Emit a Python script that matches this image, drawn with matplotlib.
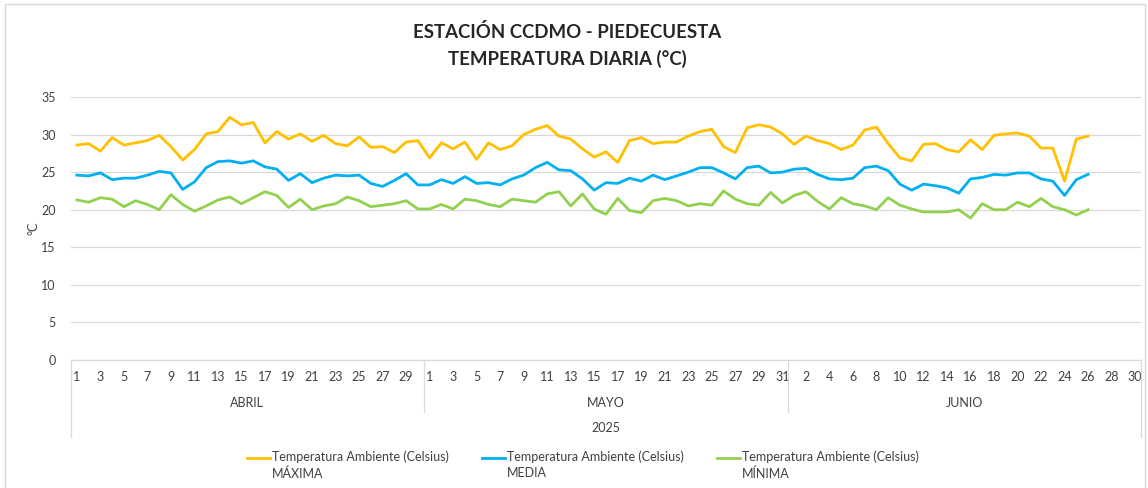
import numpy as np
import matplotlib
matplotlib.use("Agg")
import matplotlib.pyplot as plt
from matplotlib.lines import Line2D
from matplotlib.patches import Rectangle

plt.rcParams['font.family'] = ['Lato', 'DejaVu Sans']

# daily values read per month (June incomplete)
months = ['ABRIL', 'MAYO', 'JUNIO']
month_days = [30, 31, 30]
year = '2025'

april_max = [28.6, 28.8, 27.8, 29.6, 28.6, 28.9, 29.2, 29.9, 28.4, 26.6,
             28.0, 30.1, 30.4, 32.3, 31.3, 31.6, 28.9, 30.4, 29.4, 30.1,
             29.1, 29.9, 28.8, 28.5, 29.7, 28.3, 28.4, 27.6, 29.0, 29.2]
april_mean = [24.6, 24.5, 24.9, 24.0, 24.2, 24.2, 24.6, 25.1, 24.9, 22.7,
              23.7, 25.6, 26.4, 26.5, 26.2, 26.5, 25.7, 25.4, 23.9, 24.8,
              23.6, 24.2, 24.6, 24.5, 24.6, 23.5, 23.1, 23.9, 24.8, 23.3]
april_min = [21.3, 21.0, 21.6, 21.4, 20.4, 21.2, 20.7, 20.0, 22.0, 20.7,
             19.8, 20.5, 21.3, 21.7, 20.8, 21.6, 22.4, 21.9, 20.3, 21.4,
             20.0, 20.5, 20.8, 21.7, 21.2, 20.4, 20.6, 20.8, 21.2, 20.1]

may_max = [26.9, 28.9, 28.1, 29.0, 26.7, 28.9, 28.0, 28.5, 30.0, 30.7,
           31.2, 29.8, 29.4, 28.1, 27.0, 27.7, 26.3, 29.2, 29.6, 28.8,
           29.0, 29.0, 29.8, 30.4, 30.7, 28.4, 27.6, 30.9, 31.3, 31.0, 30.1]
may_mean = [23.3, 24.0, 23.5, 24.4, 23.5, 23.6, 23.3, 24.1, 24.6, 25.6,
            26.3, 25.3, 25.2, 24.1, 22.6, 23.6, 23.5, 24.2, 23.8, 24.6,
            24.0, 24.5, 25.0, 25.6, 25.6, 24.9, 24.1, 25.6, 25.8, 24.9, 25.0]
may_min = [20.1, 20.7, 20.1, 21.4, 21.2, 20.7, 20.4, 21.4, 21.2, 21.0,
           22.1, 22.4, 20.5, 22.1, 20.1, 19.4, 21.5, 19.9, 19.6, 21.2,
           21.5, 21.2, 20.5, 20.8, 20.6, 22.5, 21.4, 20.8, 20.6, 22.3, 20.9]

june_max = [28.7, 29.8, 29.2, 28.8, 28.0, 28.6, 30.6, 31.0, 28.8, 26.9,
            26.5, 28.7, 28.8, 28.0, 27.7, 29.3, 28.0, 29.9, 30.1, 30.2,
            29.8, 28.2, 28.2, 23.8, 29.4, 29.8]
june_mean = [25.4, 25.5, 24.7, 24.1, 24.0, 24.2, 25.6, 25.8, 25.2, 23.4,
             22.6, 23.4, 23.2, 22.9, 22.2, 24.1, 24.3, 24.7, 24.6, 24.9,
             24.9, 24.1, 23.8, 21.9, 24.0, 24.7]
june_min = [21.9, 22.4, 21.1, 20.1, 21.6, 20.8, 20.5, 20.0, 21.6, 20.6,
            20.1, 19.7, 19.7, 19.7, 20.0, 18.9, 20.8, 20.0, 20.0, 21.0,
            20.4, 21.5, 20.4, 20.0, 19.3, 20.0]

series_labels = ['Temperatura Ambiente (Celsius)\nMÁXIMA',
                 'Temperatura Ambiente (Celsius)\nMEDIA',
                 'Temperatura Ambiente (Celsius)\nMÍNIMA']
colors = ['#FFC000', '#00B0F0', '#92D050']


def join(apr, may, jun):
    pad = [np.nan] * (month_days[2] - len(jun))
    return np.array(apr + may + jun + pad, dtype=float)


series = [join(april_max, may_max, june_max),
          join(april_mean, may_mean, june_mean),
          join(april_min, may_min, june_min)]

n = sum(month_days)
x = np.arange(n)
day_labels = [str(d) for m in month_days for d in range(1, m + 1)]

W, H = 1148, 488
fig = plt.figure(figsize=(W / 100, H / 100), dpi=100)
fig.patch.set_facecolor('white')

# plot area in pixels
left, right, top, bottom = 71, 1141, 97, 360
ax = fig.add_axes([left / W, 1 - bottom / H, (right - left) / W, (bottom - top) / H])
ph = bottom - top

for y, c in zip(series, colors):
    ax.plot(x, y, color=c, lw=2.0, solid_joinstyle='round', clip_on=False, zorder=3)

ax.set_xlim(-0.5, n - 0.5)
ax.set_ylim(0, 35)
ax.set_yticks(range(0, 36, 5))
ax.yaxis.grid(True, color='#D9D9D9', lw=0.9)
ax.set_axisbelow(True)
for s in ax.spines.values():
    s.set_visible(False)
ax.tick_params(axis='y', length=0, pad=11, labelsize=9, labelcolor='#404040')
ax.set_ylabel('°C', fontsize=9, color='#404040', labelpad=1)

# day labels every second category
ax.set_xticks(x[::2])
ax.set_xticklabels(day_labels[::2])
ax.tick_params(axis='x', length=0, pad=8, labelsize=9, labelcolor='#404040')

# multi-level category axis
tr = ax.get_xaxis_transform()
line_kw = dict(color='#D9D9D9', lw=0.9, transform=tr, clip_on=False)
ax.plot([-0.5, n - 0.5], [0, 0], **line_kw)
edges = np.concatenate([[0], np.cumsum(month_days)]) - 0.5
for i, e in enumerate(edges):
    depth = 77 if i in (0, len(edges) - 1) else 52
    ax.plot([e, e], [0, -depth / ph], **line_kw)
for i, m in enumerate(months):
    ax.text((edges[i] + edges[i + 1]) / 2, -43 / ph, m, transform=tr,
            ha='center', va='center', fontsize=9, color='#404040')
ax.text((edges[0] + edges[-1]) / 2, -68 / ph, year, transform=tr,
        ha='center', va='center', fontsize=9, color='#404040')

# title
fig.text(567 / W, 1 - 32 / H, 'ESTACIÓN CCDMO - PIEDECUESTA', ha='center', va='center',
         fontsize=13.4, fontweight='bold', color='#262626')
fig.text(567 / W, 1 - 59 / H, 'TEMPERATURA DIARIA (°C)', ha='center', va='center',
         fontsize=13.4, fontweight='bold', color='#262626')

# legend
for lx, lab, c in zip([247, 482, 717], series_labels, colors):
    fig.add_artist(Line2D([lx / W, (lx + 23) / W], [1 - 458 / H] * 2, color=c, lw=2.0))
    fig.text((lx + 25) / W, 1 - 450 / H, lab, ha='left', va='top', fontsize=9,
             color='#404040', linespacing=1.45)

# chart frame
fig.add_artist(Rectangle((5 / W, -0.05), 1140 / W, 1.05 - 4 / H, fill=False,
                         edgecolor='#D9D9D9', lw=1.0, transform=fig.transFigure))

fig.savefig('out.png', dpi=100)
